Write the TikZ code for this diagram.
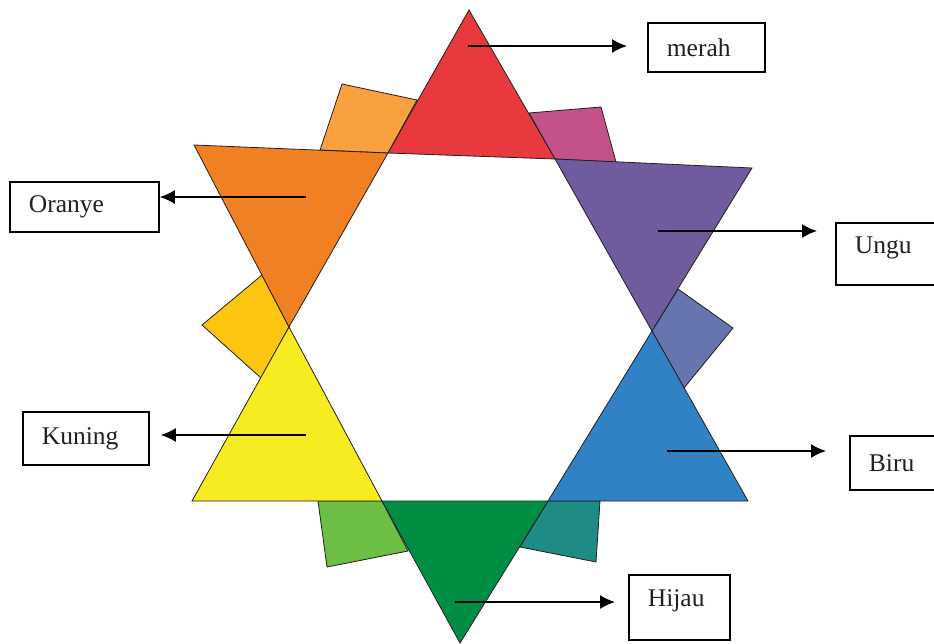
\documentclass[tikz,border=0pt]{standalone}
\usepackage{fontspec}
\setmainfont{Liberation Serif}
\usetikzlibrary{arrows.meta}
\definecolor{Garis}{HTML}{231F20}
\definecolor{Merah}{HTML}{E8393F}
\definecolor{Oranye}{HTML}{F08021}
\definecolor{OranyeMuda}{HTML}{F9A03F}
\definecolor{MerahUngu}{HTML}{C4528A}
\definecolor{Ungu}{HTML}{6F5B9E}
\definecolor{UnguBiru}{HTML}{6675B0}
\definecolor{Biru}{HTML}{3182C5}
\definecolor{BiruHijau}{HTML}{1E8C84}
\definecolor{Hijau}{HTML}{008E45}
\definecolor{HijauMuda}{HTML}{6DBE45}
\definecolor{Kuning}{HTML}{F7EB22}
\definecolor{KuningOranye}{HTML}{FCC610}

\begin{document}
\begin{tikzpicture}[x=1pt,y=-1pt,
  tri/.style={draw=Garis,line width=0.8pt},
  lbl/.style={draw=black,line width=1.8pt,anchor=north west,inner xsep=19pt,align=left,text=Garis,font=\fontsize{25.5}{30}\selectfont},
  arr/.style={-{Latex[length=15pt,width=14pt]},line width=1.6pt}
]
\useasboundingbox (0,0) rectangle (934,643);
\clip (0,0) rectangle (934,643);
\filldraw[tri,fill=OranyeMuda] (388,153) -- (320,150) -- (342,84) -- (417,100) -- cycle;
\filldraw[tri,fill=MerahUngu] (555,159) -- (529,113) -- (601,107) -- (616,162) -- cycle;
\filldraw[tri,fill=UnguBiru] (652,331) -- (678,289) -- (733,328) -- (684,388) -- cycle;
\filldraw[tri,fill=BiruHijau] (548,501) -- (600,501) -- (596,562) -- (520,547) -- cycle;
\filldraw[tri,fill=HijauMuda] (382,501) -- (318,501) -- (327,567) -- (408,551) -- cycle;
\filldraw[tri,fill=KuningOranye] (289,327) -- (262,275) -- (202,325) -- (261,378) -- cycle;
\filldraw[tri,fill=Merah] (469,10) -- (388,153) -- (555,159) -- cycle;
\filldraw[tri,fill=Ungu] (555,159) -- (752,168) -- (652,331) -- cycle;
\filldraw[tri,fill=Biru] (652,331) -- (748,501) -- (548,501) -- cycle;
\filldraw[tri,fill=Hijau] (548,501) -- (460,643) -- (382,501) -- cycle;
\filldraw[tri,fill=Kuning] (382,501) -- (192,501) -- (289,327) -- cycle;
\filldraw[tri,fill=Oranye] (289,327) -- (194,145) -- (388,153) -- cycle;
\coordinate (pm) at (468,46);
\coordinate (po) at (306,197);
\coordinate (pu) at (658,231);
\coordinate (pk) at (306,435);
\coordinate (pb) at (667,451);
\coordinate (ph) at (455,602);
\node[lbl,text width=79pt,minimum height=49pt] (merah) at (647,22) {merah};
\node[lbl,text width=111pt,minimum height=50pt] (oranye) at (9,181) {Oranye};
\node[lbl,text width=82pt,minimum height=62pt,text depth=17pt] (ungu) at (835,222) {Ungu};
\node[lbl,text width=88pt,minimum height=53pt] (kuning) at (22,411) {Kuning};
\node[lbl,text width=72pt,minimum height=54pt] (biru) at (849,435) {Biru};
\node[lbl,text width=63pt,minimum height=65pt,text depth=18pt] (hijau) at (628,574) {Hijau};
\draw[arr,shorten >=20pt] (pm) -- (pm -| merah.west);
\draw[arr] (po) -- (po -| oranye.east);
\draw[arr,shorten >=18pt] (pu) -- (pu -| ungu.west);
\draw[arr,shorten >=11pt] (pk) -- (pk -| kuning.east);
\draw[arr,shorten >=23pt] (pb) -- (pb -| biru.west);
\draw[arr,shorten >=13pt] (ph) -- (ph -| hijau.west);
\end{tikzpicture}
\end{document}
